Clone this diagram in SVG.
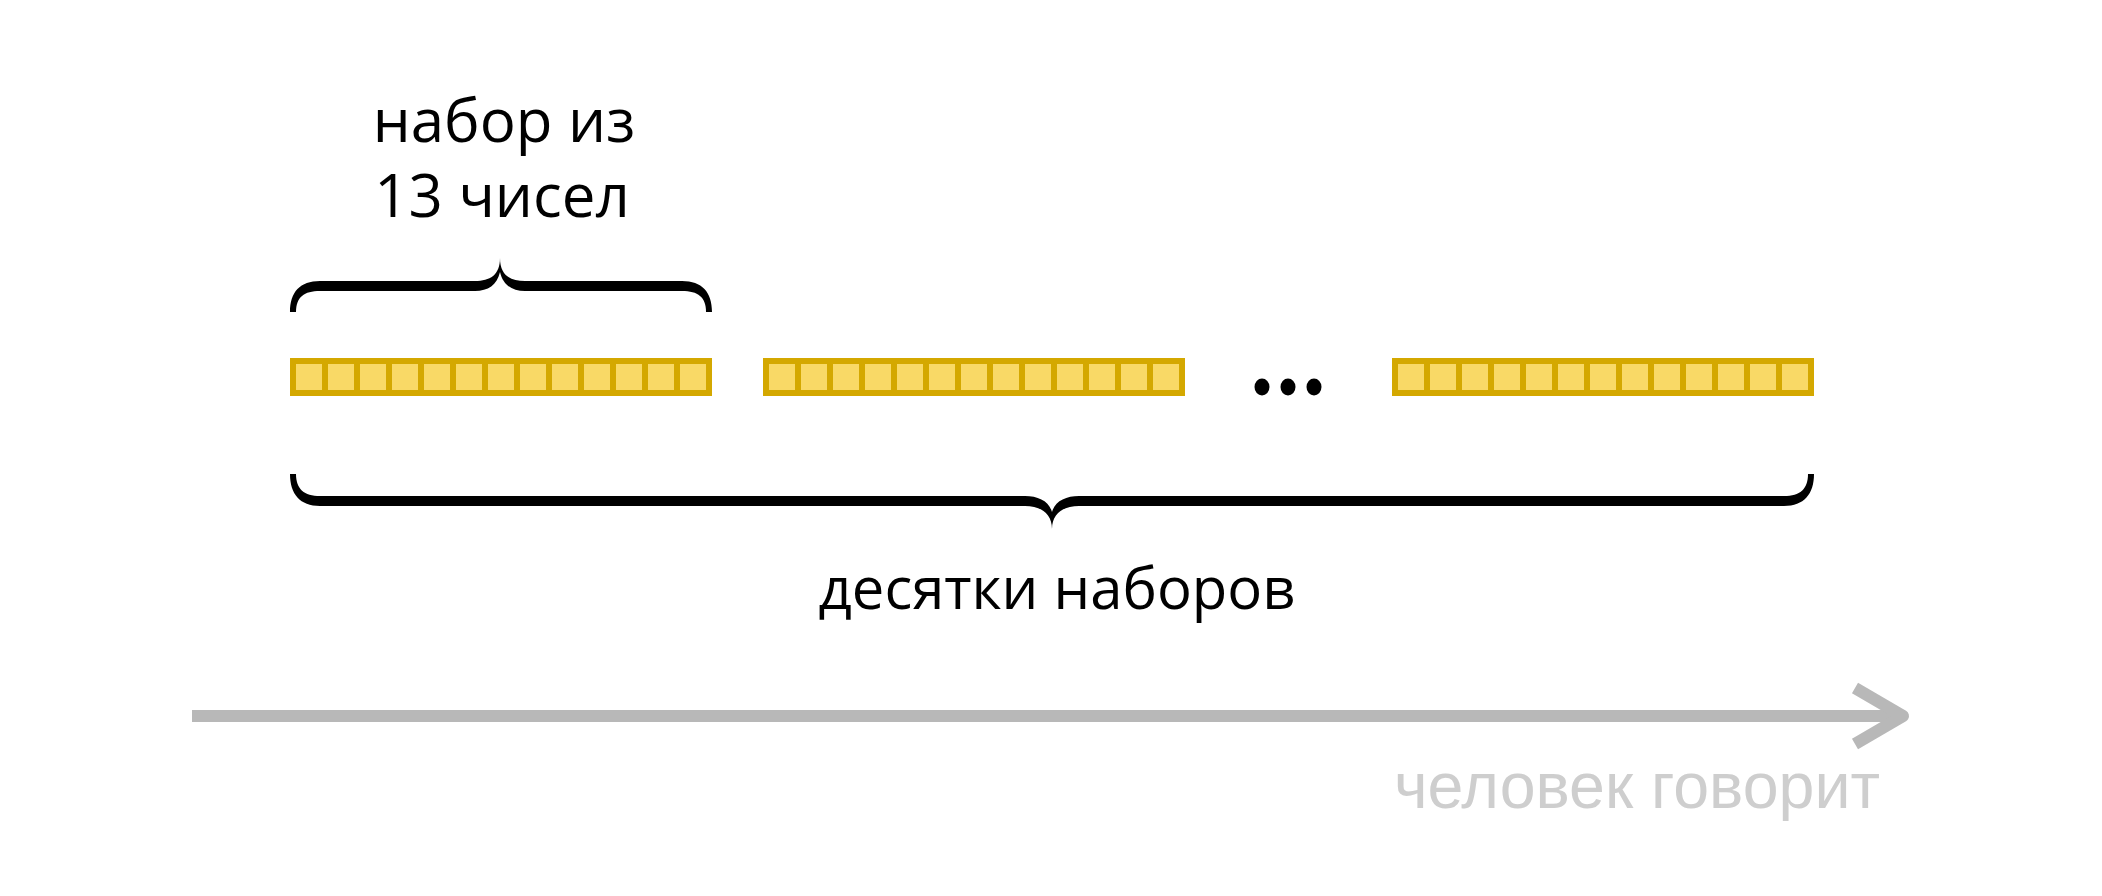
<svg xmlns="http://www.w3.org/2000/svg" width="2102" height="896" viewBox="0 0 2102 896">
<style>
.lbl{font-family:"Open Sans","Noto Sans","DejaVu Sans",sans-serif;font-size:60px;fill:#000;text-anchor:middle}
.lbl2{font-family:"Open Sans","Noto Sans","DejaVu Sans",sans-serif;font-size:58px;fill:#000;text-anchor:middle}
.grey{font-family:"Liberation Sans","Roboto",sans-serif;font-size:64.5px;fill:#cecece;text-anchor:start}
.bar{fill:#D4A800}
.sq{fill:#F9D966}
.brace{fill:#000}
.arrow{stroke:#b8b8b8;stroke-width:12;fill:none}
</style>
<defs>
<g id="cells">
<rect class="sq" x="6" y="6" width="26" height="26"/>
<rect class="sq" x="38" y="6" width="26" height="26"/>
<rect class="sq" x="70" y="6" width="26" height="26"/>
<rect class="sq" x="102" y="6" width="26" height="26"/>
<rect class="sq" x="134" y="6" width="26" height="26"/>
<rect class="sq" x="166" y="6" width="26" height="26"/>
<rect class="sq" x="198" y="6" width="26" height="26"/>
<rect class="sq" x="230" y="6" width="26" height="26"/>
<rect class="sq" x="262" y="6" width="26" height="26"/>
<rect class="sq" x="294" y="6" width="26" height="26"/>
<rect class="sq" x="326" y="6" width="26" height="26"/>
<rect class="sq" x="358" y="6" width="26" height="26"/>
<rect class="sq" x="390" y="6" width="26" height="26"/>
</g>
</defs>
<rect width="2102" height="896" fill="#fff"/>

<g id="label-top">
<text class="lbl" x="504" y="142">набор из</text>
<text class="lbl" x="502" y="217">13 чисел</text>
</g>

<g id="brace-top">
<path class="brace" d="M290 312 C290 292 300 281 320 281 L475 281 C490 281 500 275 500 258 C500 275 510 281 525 281 L682 281 C702 281 712 292 712 312 L706 312 C706 297 698 291 682 291 L525 291 C512 291 503 285 500 272 C497 285 488 291 475 291 L320 291 C304 291 296 297 296 312 Z"/>
</g>

<g id="set1" transform="translate(290,358)">
<rect class="bar" width="422" height="38"/>
<use href="#cells"/>
</g>
<g id="set2" transform="translate(763,358)">
<rect class="bar" width="422" height="38"/>
<use href="#cells"/>
</g>
<g id="ellipsis">
<ellipse cx="1262" cy="387" rx="7.5" ry="8.5" fill="#000"/>
<ellipse cx="1288" cy="387" rx="7.5" ry="8.5" fill="#000"/>
<ellipse cx="1314" cy="387" rx="7.5" ry="8.5" fill="#000"/>
</g>
<g id="set3" transform="translate(1392,358)">
<rect class="bar" width="422" height="38"/>
<use href="#cells"/>
</g>

<g id="brace-bottom">
<path class="brace" d="M290 474 C290 494 300 506 320 506 L1025 506 C1040 506 1052 513 1052 529 C1052 513 1064 506 1079 506 L1784 506 C1804 506 1814 494 1814 474 L1808 474 C1808 489 1800 496 1784 496 L1079 496 C1066 496 1055 501 1052 512 C1049 501 1038 496 1025 496 L320 496 C304 496 296 489 296 474 Z"/>
</g>

<g id="label-bottom">
<text class="lbl2" x="1057" y="609">десятки наборов</text>
</g>

<g id="connectors">
<line class="arrow" x1="192" y1="716" x2="1900" y2="716"/>
<polyline class="arrow" points="1855,688 1903,716 1855,744" stroke-linejoin="round"/>
</g>

<g id="label-time">
<text class="grey" x="1394" y="808">человек говорит</text>
</g>
</svg>
